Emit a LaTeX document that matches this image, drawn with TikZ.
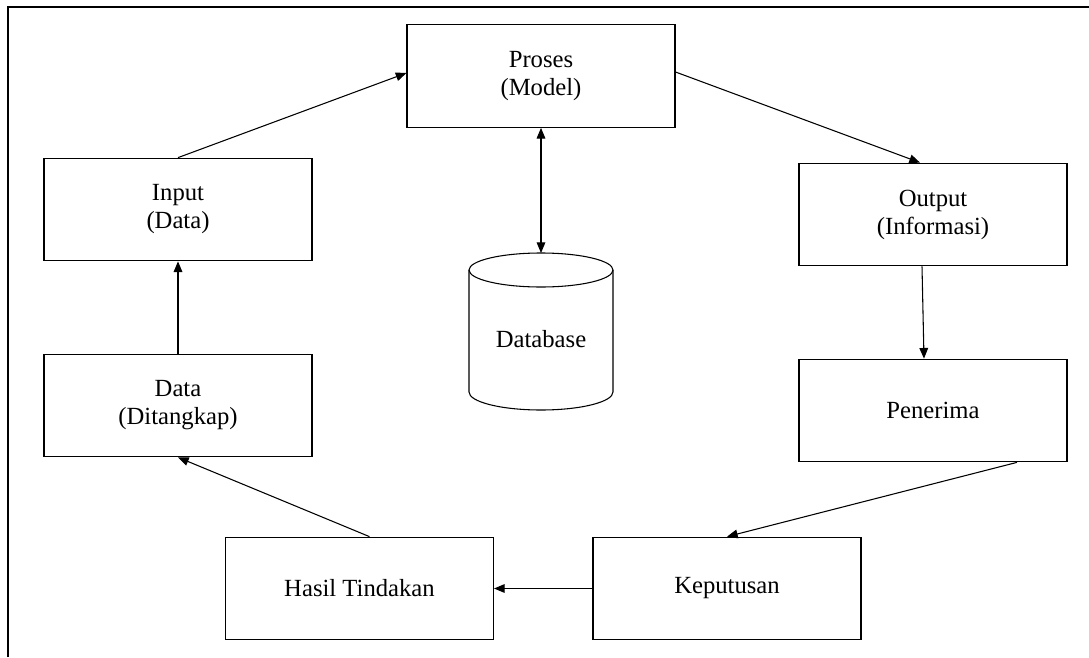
\documentclass[tikz,border=0pt]{standalone}
\usepackage{fontspec}
\setmainfont{Liberation Serif}
\usetikzlibrary{arrows.meta}

\begin{document}
\begin{tikzpicture}[
    x=0.75pt, y=-0.75pt,
    every node/.style={font=\fontsize{18.5}{21}\selectfont},
    box/.style={draw, line width=0.8pt, rectangle, align=center,
                minimum width=201pt, minimum height=77pt, inner sep=0pt},
    link/.style={line width=0.8pt, -{Triangle[length=8pt,width=6.5pt]}},
    twoway/.style={line width=0.8pt, {Triangle[length=8pt,width=6.5pt]}-{Triangle[length=8pt,width=6.5pt]}},
    frame/.style={line width=1.6pt}
  ]
  % page area and the open frame (top and left edges)
  \useasboundingbox (0,0) rectangle (1089,657);
  \draw[frame] (8,657) -- (8,7) -- (1089,7);

  % process boxes
  \node[box] (proses)    at (541,76)     {Proses\\(Model)};
  \node[box] (input)     at (178,209.5)  {Input\\(Data)};
  \node[box] (data)      at (178,405.5)  {Data\\(Ditangkap)};
  \node[box] (output)    at (933,214.5)  {Output\\(Informasi)};
  \node[box] (penerima)  at (933,410.5)  {Penerima};
  \node[box] (keputusan) at (727,588.5)  {Keputusan};
  \node[box] (hasil)     at (359.5,588.5){Hasil Tindakan};

  % database cylinder
  \draw[line width=0.8pt]
    (469,270) arc[start angle=180, end angle=0, x radius=54pt, y radius=12.75pt]
    -- (613,392) arc[start angle=0, end angle=-180, x radius=54pt, y radius=13.5pt]
    -- cycle;
  \draw[line width=0.8pt]
    (469,270) arc[start angle=180, end angle=360, x radius=54pt, y radius=12.75pt];
  \coordinate (dbtop) at (541,253);
  \node (db) at (541,339) {Database};

  % flow of the cycle
  \draw[link] (input.north) -- ([yshift=2.25pt]proses.west);
  \draw[link] ([yshift=3pt]proses.east) -- ([xshift=-9.75pt]output.north);
  \draw[link] ([xshift=-8.25pt]output.south) -- ([xshift=-6.75pt]penerima.north);
  \draw[link] ([xshift=63pt]penerima.south) -- (keputusan.north);
  \draw[link] (keputusan.west) -- (hasil.east);
  \draw[link] ([xshift=7.5pt]hasil.north) -- (data.south);
  \draw[link] (data.north) -- (input.south);
  \draw[twoway] (proses.south) -- (dbtop);
\end{tikzpicture}
\end{document}
